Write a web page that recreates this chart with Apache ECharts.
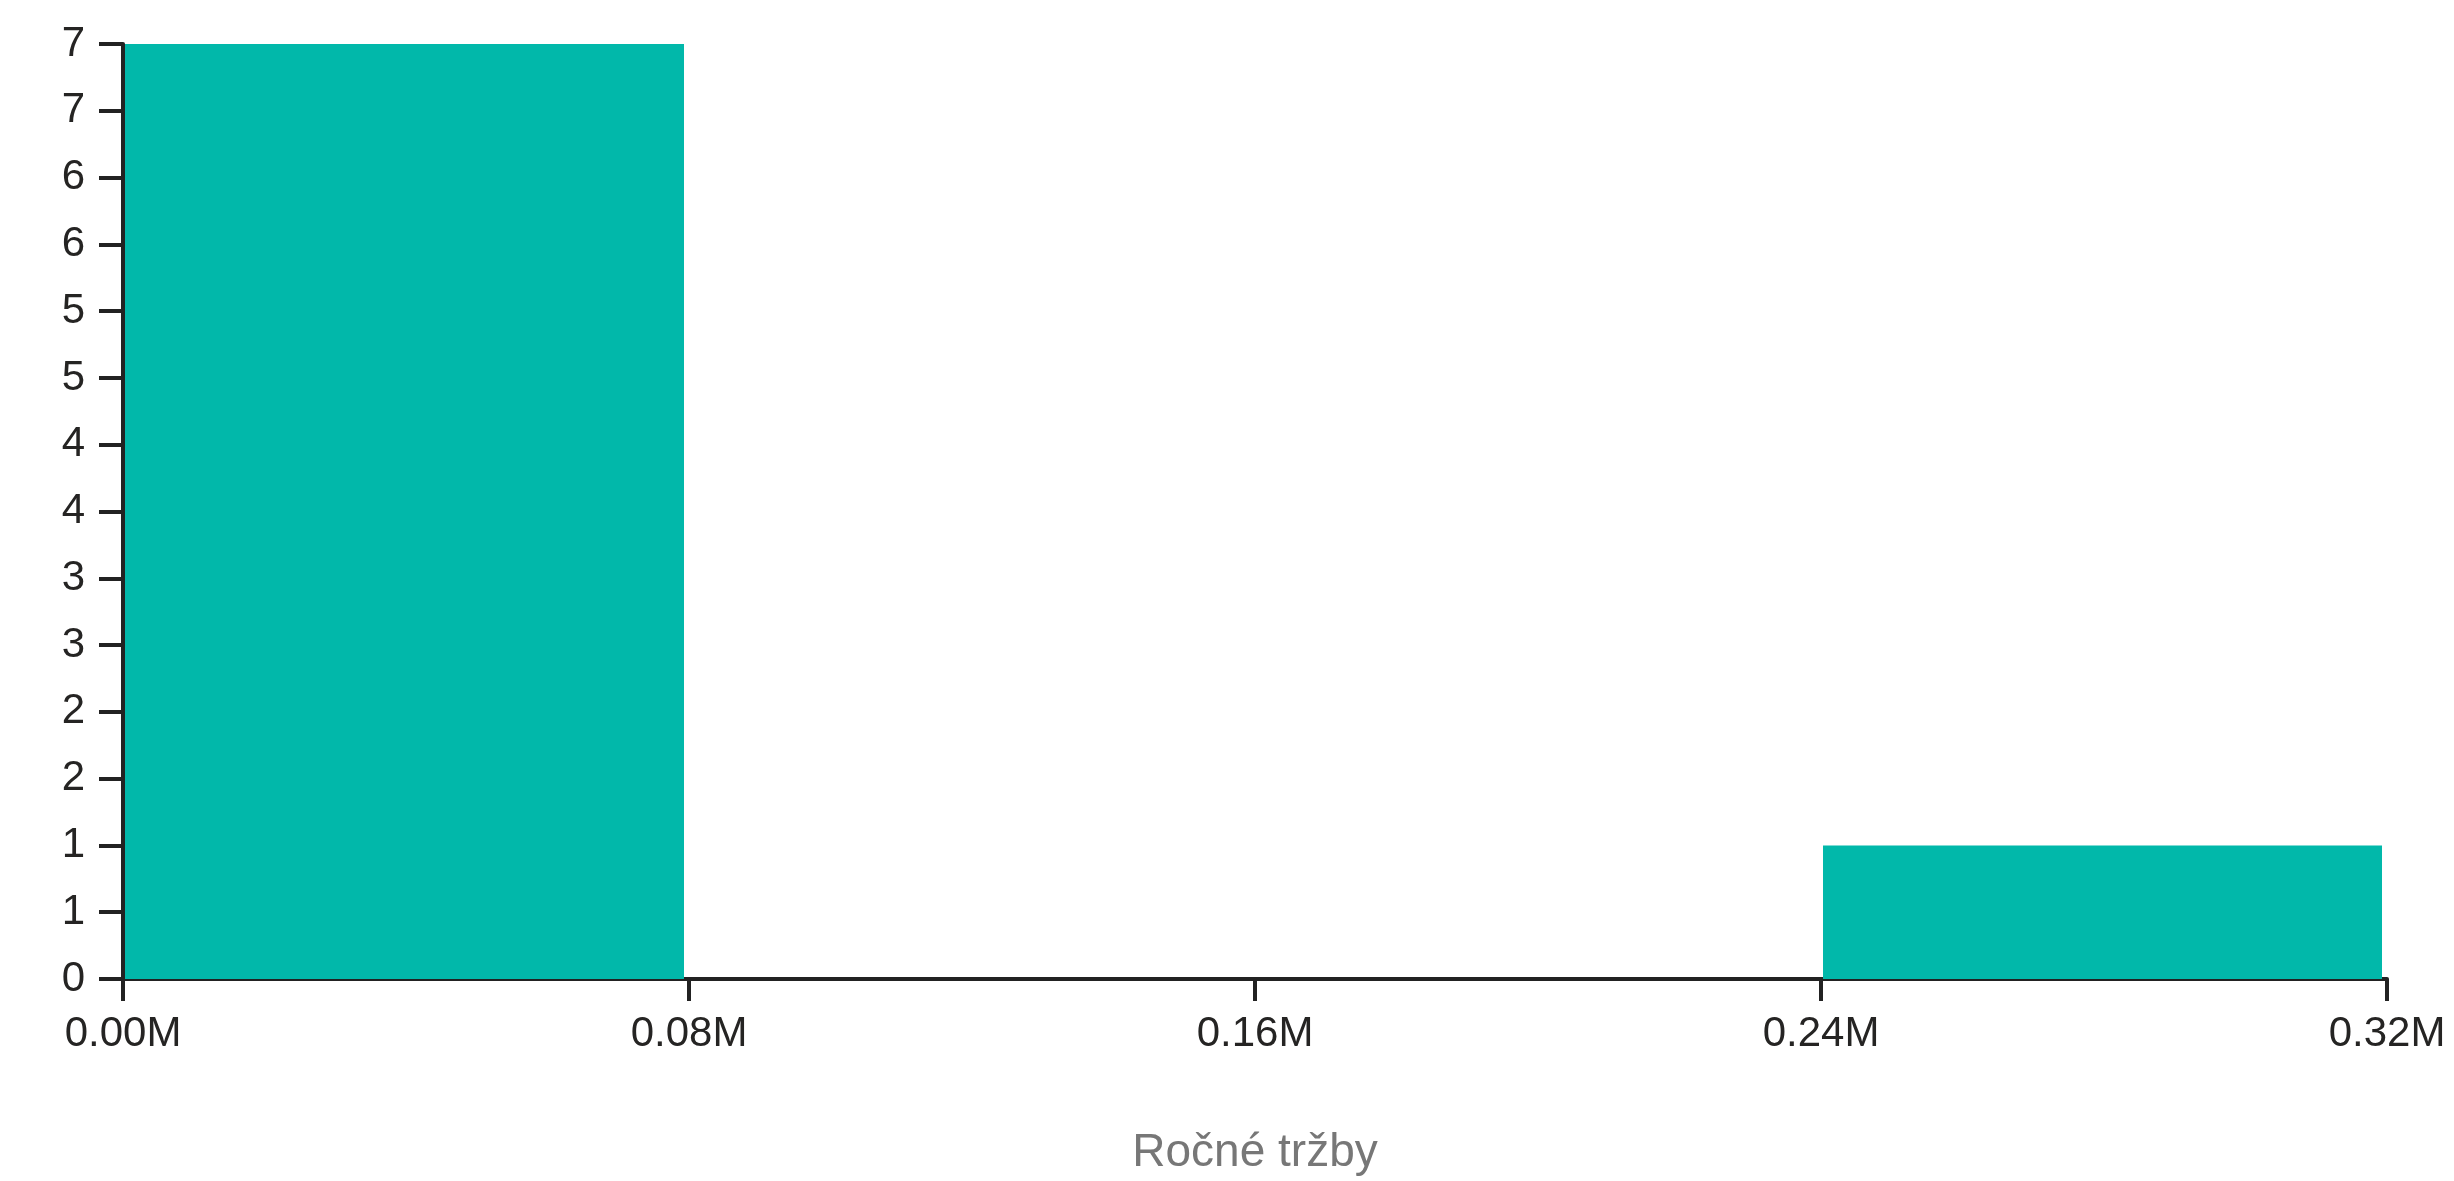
<!DOCTYPE html>
<html>
<head>
<meta charset="utf-8">
<script src="https://cdn.jsdelivr.net/npm/echarts@6/dist/echarts.min.js"></script>
<style>html,body{margin:0;padding:0;background:#fff;}#c{width:2454px;height:1181px;}</style>
</head>
<body>
<div id="c"></div>
<script>
// Histogram bins (annual revenue in millions) and counts
const binStart = [0.00, 0.24];
const binEnd = [0.08, 0.32];
const counts = [7, 1];
const xTicks = ['0.00M', '0.08M', '0.16M', '0.24M', '0.32M'];
const xTitle = 'Ročné tržby';

const data = binStart.map((s, i) => [s, binEnd[i], counts[i]]);
const chart = echarts.init(document.getElementById('c'));
const axisColor = '#222222';
const font = '"Liberation Sans", Arial, sans-serif';
chart.setOption({
  animation: false,
  grid: { left: 123, right: 67, top: 44, bottom: 196 },
  xAxis: {
    type: 'value', min: 0, max: 0.32, interval: 0.08,
    splitLine: { show: false },
    axisLine: { lineStyle: { color: axisColor, width: 4 } },
    axisTick: { show: true, length: 22, lineStyle: { color: axisColor, width: 4 } },
    axisLabel: { color: '#252423', fontSize: 42, fontFamily: font, margin: 34,
      formatter: v => xTicks[Math.round(v / 0.08)] },
    name: xTitle, nameLocation: 'middle', nameGap: 151,
    nameTextStyle: { color: '#777777', fontSize: 46, fontFamily: font }
  },
  yAxis: {
    type: 'value', min: 0, max: 7, interval: 0.5,
    splitLine: { show: false },
    axisLine: { show: true, lineStyle: { color: axisColor, width: 4 } },
    axisTick: { show: true, length: 24, lineStyle: { color: axisColor, width: 4 } },
    axisLabel: { color: '#252423', fontSize: 42, fontFamily: font, margin: 38,
      formatter: v => String(Math.round(v)) }
  },
  series: [{
    type: 'custom',
    data: data,
    encode: { x: [0, 1], y: 2 },
    renderItem: function (params, api) {
      const p0 = api.coord([api.value(0), api.value(2)]);
      const p1 = api.coord([api.value(1), 0]);
      const x0 = p0[0] + 2, x1 = p1[0] - 5;
      return {
        type: 'rect',
        shape: { x: x0, y: p0[1], width: x1 - x0, height: p1[1] - p0[1] },
        style: { fill: '#01B8AA' }
      };
    }
  }]
});
</script>
</body>
</html>
